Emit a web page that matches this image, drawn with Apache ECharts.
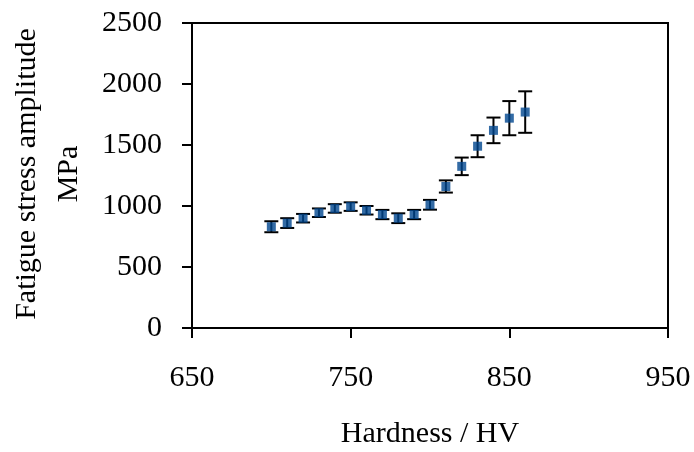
<!DOCTYPE html>
<html>
<head>
<meta charset="utf-8">
<script src="https://cdn.jsdelivr.net/npm/echarts@6/dist/echarts.min.js"></script>
<style>html,body{margin:0;padding:0;background:#fff}#c{width:694px;height:452px}</style>
</head>
<body>
<div id="c"></div>
<script>
var hardness = [700, 710, 720, 730, 740, 750, 760, 770, 780, 790, 800, 810, 820, 830, 840, 850, 860];
var stress = [830, 860, 900, 945, 980, 995, 965, 930, 900, 930, 1010, 1160, 1325, 1490, 1620, 1720, 1770];
var errors = [45, 40, 35, 35, 35, 35, 35, 38, 40, 38, 40, 50, 72, 90, 105, 140, 170];
var xTicks = [650, 750, 850, 950];
var xTitle = 'Hardness / HV';
var yTitleLines = ['Fatigue stress amplitude', 'MPa'];

var FONT = 'Liberation Serif, Times New Roman, serif';
var chart = echarts.init(document.getElementById('c'), null, {renderer: 'canvas'});

var pts = hardness.map(function (h, i) { return [h, stress[i]]; });
var errData = hardness.map(function (h, i) { return [h, stress[i] - errors[i], stress[i] + errors[i]]; });

chart.setOption({
  animation: false,
  backgroundColor: '#fff',
  grid: {left: 192, right: 26, top: 23, bottom: 124, show: true, borderColor: '#000', borderWidth: 2, backgroundColor: 'transparent'},
  xAxis: {
    type: 'value', min: 650, max: 950,
    axisLine: {show: true, lineStyle: {color: '#000', width: 2}},
    axisTick: {show: true, inside: false, length: 10, lineStyle: {color: '#000', width: 2}, customValues: xTicks},
    axisLabel: {color: '#000', fontFamily: FONT, fontSize: 30, margin: 35, customValues: xTicks, formatter: function (v) { return String(v); }},
    splitLine: {show: false}
  },
  yAxis: {
    type: 'value', min: 0, max: 2500, interval: 500,
    axisLine: {show: true, lineStyle: {color: '#000', width: 2}},
    axisTick: {show: true, inside: false, length: 10, lineStyle: {color: '#000', width: 2}},
    axisLabel: {color: '#000', fontFamily: FONT, fontSize: 30, margin: 30, formatter: function (v) { return String(v); }},
    splitLine: {show: false}
  },
  graphic: [
    {type: 'text', x: 430, y: 434, style: {text: xTitle, font: '30px ' + FONT, fill: '#000', textAlign: 'center', textVerticalAlign: 'middle'}},
    {type: 'text', x: 27, y: 174, rotation: Math.PI / 2, style: {text: yTitleLines[0], font: '30px ' + FONT, fill: '#000', textAlign: 'center', textVerticalAlign: 'middle'}},
    {type: 'text', x: 69, y: 174, rotation: Math.PI / 2, style: {text: yTitleLines[1], font: '30px ' + FONT, fill: '#000', textAlign: 'center', textVerticalAlign: 'middle'}}
  ],
  series: [
    {
      type: 'custom',
      data: errData,
      z: 2,
      renderItem: function (params, api) {
        var x = api.value(0);
        var lo = api.coord([x, api.value(1)]);
        var hi = api.coord([x, api.value(2)]);
        var hw = 7;
        var st = {stroke: '#000', lineWidth: 2};
        return {type: 'group', children: [
          {type: 'line', shape: {x1: lo[0], y1: lo[1], x2: hi[0], y2: hi[1]}, style: st},
          {type: 'line', shape: {x1: lo[0] - hw, y1: lo[1], x2: lo[0] + hw, y2: lo[1]}, style: st},
          {type: 'line', shape: {x1: hi[0] - hw, y1: hi[1], x2: hi[0] + hw, y2: hi[1]}, style: st}
        ]};
      }
    },
    {
      type: 'scatter',
      data: pts,
      z: 3,
      symbol: 'rect',
      symbolSize: 9,
      itemStyle: {color: '#00468f'}
    }
  ]
});
</script>
</body>
</html>
